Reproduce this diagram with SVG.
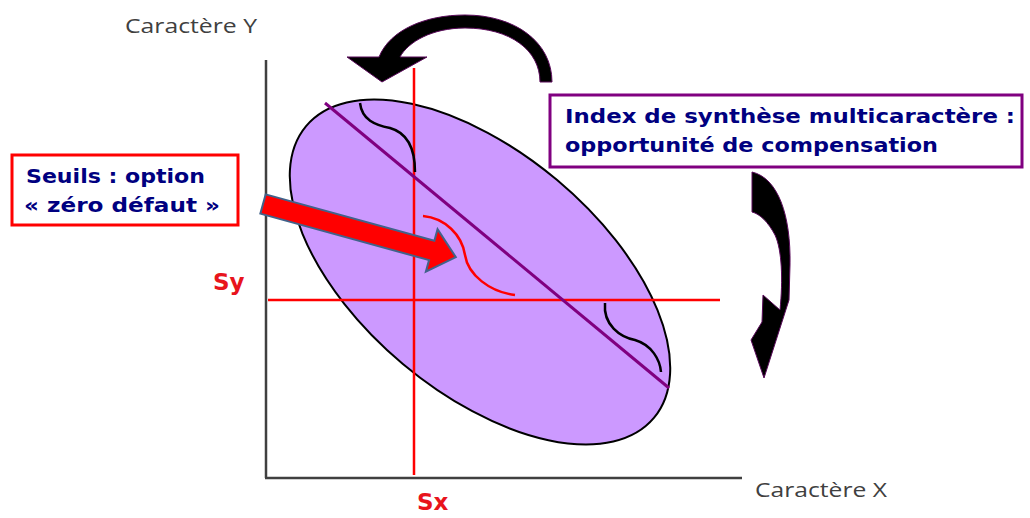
<svg xmlns="http://www.w3.org/2000/svg" width="1030" height="518" viewBox="0 0 1030 518">
<style>
.axis{stroke:#404040;stroke-width:2.5;fill:none}
.thr{stroke:#ff0000;stroke-width:2.5;fill:none}
.curve{stroke:#000;stroke-width:2.5;fill:none}
.lbl{font-family:"Open Sans","Liberation Sans",sans-serif;font-size:20px;fill:#404040}
.bt{font-family:"DejaVu Sans","Liberation Sans",sans-serif;font-weight:bold;font-size:19.5px;fill:#000080}
.s{font-family:"DejaVu Sans","Liberation Sans",sans-serif;font-weight:bold;font-size:23px;fill:#e8141c}
.barrow{fill:#000;stroke:#5a0a5a;stroke-width:1}
</style>
<rect width="1030" height="518" fill="#fff"/>
<g id="ellipse">
<ellipse cx="480" cy="272" rx="227" ry="120" transform="rotate(40 480 272)" fill="#cc99ff" stroke="#000" stroke-width="2"/>
</g>
<g id="axes">
<line class="axis" x1="266" y1="60" x2="266" y2="478"/>
<line class="axis" x1="265" y1="478" x2="742" y2="478"/>
</g>
<g id="thresholds">
<line class="thr" x1="414" y1="68" x2="414" y2="475"/>
<line class="thr" x1="268" y1="300" x2="720" y2="300"/>
</g>
<g id="index-line">
<line x1="325" y1="103" x2="669" y2="388" stroke="#800080" stroke-width="3"/>
</g>
<g id="curves">
<path class="curve" d="M360,103 C362,120 375,125 390,128 C408,133 415,150 415,172"/>
<path class="curve" d="M605,303 C603,325 620,337 635,340 C652,345 660,360 661,372"/>
<path d="M423,216 C445,218 462,235 465,255 C468,275 490,292 515,295" stroke="#ff0000" stroke-width="2.5" fill="none"/>
</g>
<g id="connectors">
<path d="M0,-10 L175,-10 L175,-22 L200,0 L175,22 L175,10 L0,10 Z" transform="translate(263,204) rotate(15.4)" fill="#ff0000" stroke="#41628a" stroke-width="2"/>
<path class="barrow" d="M540,82 C540,50 510,28 465,28 C432,28 408,42 400,57 L427,57 L382,82 L347,57 L379,57 C390,30 425,15 465,15 C515,15 552,42 552,82 Z"/>
<path class="barrow" d="M752,172 C778,178 791,215 790,265 L789,300 L764,378 L751,340 L762,322 L763,295 L780,310 C783,280 782,250 775,235 C768,222 760,214 752,212 Z"/>
</g>
<g id="box-seuils">
<rect x="12" y="155" width="226" height="70" fill="#fff" stroke="#ff0000" stroke-width="3"/>
<text class="bt" x="26" y="183" textLength="179" lengthAdjust="spacingAndGlyphs">Seuils : option</text>
<text class="bt" x="24" y="212" textLength="196" lengthAdjust="spacingAndGlyphs">« zéro défaut »</text>
</g>
<g id="box-index">
<rect x="550" y="95" width="472" height="72" fill="#fff" stroke="#800080" stroke-width="3"/>
<text class="bt" x="565" y="123" textLength="450" lengthAdjust="spacingAndGlyphs">Index de synthèse multicaractère :</text>
<text class="bt" x="565" y="152" textLength="373" lengthAdjust="spacingAndGlyphs">opportunité de compensation</text>
</g>
<g id="labels">
<text class="lbl" x="125" y="33" textLength="132" lengthAdjust="spacingAndGlyphs">Caractère Y</text>
<text class="lbl" x="755" y="497" textLength="132" lengthAdjust="spacingAndGlyphs">Caractère X</text>
<text class="s" x="213" y="290">Sy</text>
<text class="s" x="417" y="510">Sx</text>
</g>
</svg>
